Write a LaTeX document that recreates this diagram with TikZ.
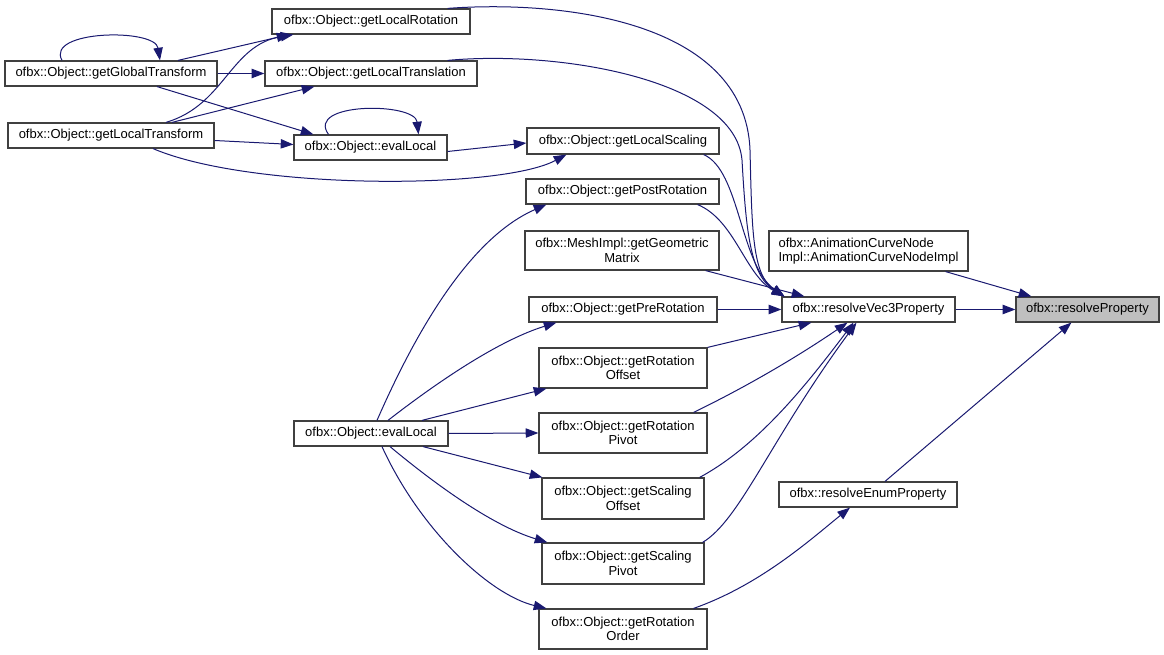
\documentclass[tikz,border=0pt]{standalone}
\usepackage{fontspec}
\setmainfont{Liberation Sans}
\usetikzlibrary{arrows.meta,calc}
\definecolor{edgecol}{HTML}{191970}
\definecolor{boxline}{HTML}{404040}
\definecolor{hilite}{HTML}{BFBFBF}
\tikzset{
  fn/.style={draw=boxline, line width=0.9pt, fill=white, rectangle, inner sep=0pt,
    minimum height=25*0.75pt, align=center, font=\fontsize{9.75}{11}\selectfont},
  fntwo/.style={fn, minimum height=40*0.75pt},
  w/.style={minimum width=#1*0.75pt},
  h/.style={minimum height=#1*0.75pt},
  edge/.style={draw=edgecol, line width=0.75pt, -{Triangle[length=9.5pt,width=7pt]}}
}
\begin{document}
\begin{tikzpicture}[x=0.75pt,y=-0.75pt]
\useasboundingbox (0,0) rectangle (1164,655);
% nodes
\node[fn, w=198] (LR)  at (371,21.5)  {ofbx::Object::getLocalRotation};
\node[fn, w=212] (GT)  at (111,73.5)  {ofbx::Object::getGlobalTransform};
\node[fn, w=212] (LT)  at (371,73.5)  {ofbx::Object::getLocalTranslation};
\node[fn, w=206] (LTr) at (111,135.5) {ofbx::Object::getLocalTransform};
\node[fn, w=153] (EL1) at (370.5,147.5) {ofbx::Object::evalLocal};
\node[fn, w=192, h=26] (LS) at (623,141) {ofbx::Object::getLocalScaling};
\node[fn, w=193] (PoR) at (622.5,191.5) {ofbx::Object::getPostRotation};
\node[fn, w=194, h=39] (GM) at (622,250.5) {ofbx::MeshImpl::getGeometric\\Matrix};
\node[fn, w=188] (PrR) at (623,309.5) {ofbx::Object::getPreRotation};
\node[fntwo, w=168] (RO) at (623,368) {ofbx::Object::getRotation\\Offset};
\node[fn, w=154] (EL2) at (371,433.5) {ofbx::Object::evalLocal};
\node[fntwo, w=168] (RP) at (623,433) {ofbx::Object::getRotation\\Pivot};
\node[fntwo, w=162, h=41] (SO) at (623,498.5) {ofbx::Object::getScaling\\Offset};
\node[fntwo, w=162, h=41] (SP) at (623,563.5) {ofbx::Object::getScaling\\Pivot};
\node[fntwo, w=168] (ROr) at (623,629) {ofbx::Object::getRotation\\Order};
\node[fntwo, w=199, align=left] (ACN) at (868.5,251) {ofbx::AnimationCurveNode\\Impl::AnimationCurveNodeImpl};
\node[fn, w=173] (RV3) at (868.5,309.5) {ofbx::resolveVec3Property};
\node[fn, w=178] (REn) at (868,494.5) {ofbx::resolveEnumProperty};
\node[fn, w=143, fill=hilite] (RP0) at (1087.5,309.5) {ofbx::resolveProperty};
% edges: top-left cluster
\draw[edge] ($(GT.north)+(-49,0)$) .. controls (45,30) and (155,28) .. ($(GT.north)+(49,0)$);
\draw[edge] ($(GT.north)+(67,0)$) -- ($(LR.south west)+(18,0)$);
\draw[edge] (GT.east) -- (LT.west);
\draw[edge] ($(GT.south)+(46,0)$) -- ($(EL1.north west)+(20,0)$);
\draw[edge] ($(LTr.north)+(55,0)$) .. controls (225,105) and (230,45) .. ($(LR.south west)+(22,0)$);
\draw[edge] ($(LTr.north)+(61,0)$) -- ($(LT.south west)+(50,0)$);
\draw[edge] ($(LTr.east)+(0,5)$) -- ($(EL1.west)+(0,-3)$);
\draw[edge] ($(LTr.south)+(42,0)$) .. controls (250,190) and (500,190) .. ($(LS.south west)+(40,0)$);
\draw[edge] ($(EL1.north)+(-42,0)$) .. controls (305,102) and (415,102) .. ($(EL1.north)+(48,0)$);
\draw[edge] ($(EL1.east)+(0,4)$) -- ($(LS.west)+(0,2)$);
% edges into resolveVec3Property
\draw[edge] ($(LR.north east)+(-23,0)$) .. controls (560,0) and (745,20) .. (750,150)
            .. controls (752,230) and (752,275) .. ($(RV3.north west)+(3,0)$);
\draw[edge] ($(LT.north east)+(-30,0)$) .. controls (560,50) and (735,80) .. (742,160)
            .. controls (746,230) and (750,275) .. ($(RV3.north west)+(3,0)$);
\draw[edge] ($(LS.south east)+(-16,0)$) .. controls (740,170) and (740,265) .. ($(RV3.north west)+(3,0)$);
\draw[edge] ($(PoR.south east)+(-22,0)$) .. controls (735,220) and (745,275) .. ($(RV3.north west)+(3,0)$);
\draw[edge] ($(GM.south east)+(-14,0)$) -- ($(RV3.north west)+(23,0)$);
\draw[edge] (PrR.east) -- (RV3.west);
\draw[edge] (RO.north east) -- ($(RV3.south west)+(30,0)$);
\draw[edge] ($(RP.north east)+(-14,0)$) .. controls (750,385) and (800,355) .. ($(RV3.south)+(-21,0)$);
\draw[edge] ($(SO.north east)+(-5,0)$) .. controls (760,445) and (810,380) .. ($(RV3.south)+(-15,0)$);
\draw[edge] ($(SP.north east)+(-2,0)$) .. controls (740,520) and (770,440) .. ($(RV3.south)+(-12,0)$);
\draw[edge] ($(ROr.north east)+(-14,0)$) .. controls (760,585) and (810,540) .. ($(REn.south)+(-18,0)$);
% edges into resolveProperty
\draw[edge] (RV3.east) -- (RP0.west);
\draw[edge] ($(ACN.south east)+(-23,0)$) -- ($(RP0.north west)+(16,0)$);
\draw[edge] ($(REn.north)+(17,0)$) -- ($(RP0.south west)+(56,0)$);
% edges from lower evalLocal
\draw[edge] ($(EL2.north)+(6,0)$) .. controls (410,345) and (465,240) .. ($(PoR.south west)+(21,0)$);
\draw[edge] ($(EL2.north)+(17,0)$) .. controls (440,380) and (500,340) .. ($(PrR.south west)+(28,0)$);
\draw[edge] ($(EL2.north)+(51,0)$) -- ($(RO.south west)+(8,0)$);
\draw[edge] (EL2.east) -- (RP.west);
\draw[edge] ($(EL2.south)+(52,0)$) -- ($(SO.north west)+(1,0)$);
\draw[edge] ($(EL2.south)+(19,0)$) .. controls (430,480) and (490,525) .. ($(SP.north west)+(6,0)$);
\draw[edge] ($(EL2.south)+(11,0)$) .. controls (420,530) and (490,595) .. ($(ROr.north west)+(8,0)$);
\end{tikzpicture}
\end{document}
